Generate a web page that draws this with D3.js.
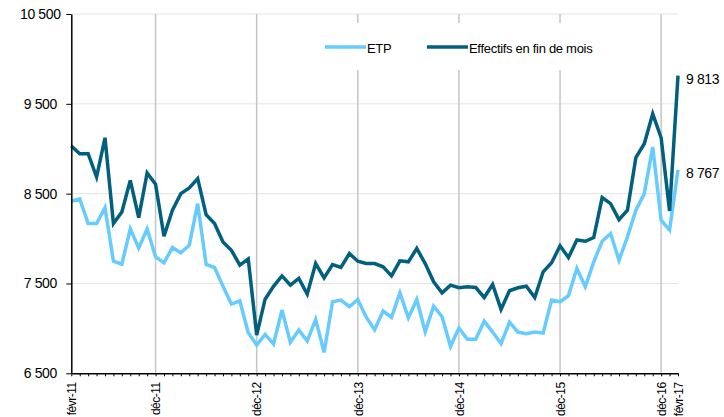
<!DOCTYPE html>
<html>
<head>
<meta charset="utf-8">
<style>
  body { margin: 0; background: #fff; }
  svg { display: block; font-family: "Liberation Sans", Arial, sans-serif; }
  .axis .domain { stroke: #000; stroke-width: 1.5px; }
  .axis .tick line { stroke: #000; }
  .axis text { fill: #000; }
  .hgrid line { stroke: #e4e4e4; stroke-width: 1px; }
  .vgrid line { stroke: #c6c6c6; stroke-width: 1.5px; }
  .serie { fill: none; stroke-width: 3.5px; stroke-linejoin: miter; }
</style>
</head>
<body>
<svg id="chart" width="724" height="417"></svg>
<script src="https://cdn.jsdelivr.net/npm/d3@7"></script>
<script>
// monthly values, févr-11 -> févr-17
var etp = [8415, 8441, 8167, 8167, 8344, 7748, 7715, 8107, 7896, 8107,
  7796, 7730, 7900, 7841, 7926, 8389, 7711, 7678, 7470, 7270,
  7307, 6952, 6815, 6933, 6826, 7204, 6844, 6981, 6859, 7100,
  6733, 7296, 7315, 7241, 7322, 7125, 6985, 7193, 7122, 7396,
  7118, 7322, 6963, 7248, 7130, 6800, 7004, 6880, 6878, 7081,
  6959, 6830, 7070, 6959, 6941, 6959, 6948, 7315, 7296, 7365,
  7667, 7463, 7741, 7970, 8056, 7759, 8019, 8315, 8500, 9019,
  8204, 8093, 8767];

var effectifs = [9030, 8944, 8944, 8685, 9122, 8167, 8296, 8648, 8233, 8730,
  8604, 8026, 8315, 8500, 8563, 8667, 8267, 8167, 7963, 7870,
  7704, 7774, 6926, 7325, 7468, 7585, 7481, 7556, 7381, 7722,
  7563, 7711, 7678, 7833, 7748, 7722, 7722, 7685, 7585, 7752,
  7741, 7889, 7722, 7519, 7396, 7481, 7452, 7463, 7455, 7344,
  7489, 7211, 7419, 7452, 7470, 7344, 7630, 7730, 7919, 7789,
  7985, 7970, 8011, 8456, 8389, 8211, 8315, 8900, 9056, 9389,
  9122, 8307, 9813];

var moisNoms = ["janv", "févr", "mars", "avr", "mai", "juin", "juil", "août", "sept", "oct", "nov", "déc"];
var xLabels = ["févr-11", "déc-11", "déc-12", "déc-13", "déc-14", "déc-15", "déc-16", "févr-17"];
var yTicks = [6500, 7500, 8500, 9500, 10500];

var months = [];
for (var k = 0; k < etp.length; k++) {
  var m = (1 + k) % 12, yr = 11 + Math.floor((1 + k) / 12);
  months.push(moisNoms[m] + "-" + yr);
}

var margin = {left: 71.3, right: 46, top: 14, bottom: 43.7};
var W = 724, H = 417;

var svg = d3.select("#chart");

var x = d3.scalePoint().domain(months).range([margin.left, W - margin.right]);
var y = d3.scaleLinear().domain([6500, 10500]).range([H - margin.bottom, margin.top]);

var fr = d3.formatLocale({decimal: ",", thousands: " ", grouping: [3], currency: ["", " €"]});
var fmt = fr.format(",");

// horizontal gridlines
svg.append("g").attr("class", "hgrid")
  .selectAll("line").data(yTicks.slice(1)).enter().append("line")
    .attr("x1", margin.left).attr("x2", W - margin.right)
    .attr("y1", function(d){ return y(d); }).attr("y2", function(d){ return y(d); });

// vertical gridlines at december
svg.append("g").attr("class", "vgrid")
  .selectAll("line").data(months.filter(function(d){ return d.indexOf("déc") === 0; })).enter().append("line")
    .attr("x1", function(d){ return x(d); }).attr("x2", function(d){ return x(d); })
    .attr("y1", y(10500)).attr("y2", y(6500));

// legend box hides gridlines
svg.append("rect").attr("x", 262).attr("y", 23).attr("width", 390).attr("height", 47).attr("fill", "#fff");

var line = function(vals) {
  return d3.line().x(function(d, i){ return x(months[i]); }).y(function(d){ return y(d); })(vals);
};

svg.append("path").attr("class", "serie").attr("stroke", "#66ccff").attr("d", line(etp));
svg.append("path").attr("class", "serie").attr("stroke", "#00607e").attr("d", line(effectifs));

// y axis
var yAxis = svg.append("g").attr("class", "axis")
  .attr("transform", "translate(" + margin.left + ",0)")
  .call(d3.axisLeft(y).tickValues(yTicks).tickSize(5).tickSizeOuter(0).tickFormat(fmt));
yAxis.selectAll("text")
  .attr("x", -31).style("text-anchor", "middle")
  .style("font-size", "14px").style("letter-spacing", "-0.4px");

// x axis
var xAxis = svg.append("g").attr("class", "axis")
  .attr("transform", "translate(0," + y(6500) + ")")
  .call(d3.axisBottom(x).tickSize(3).tickSizeOuter(0)
    .tickFormat(function(d){ return xLabels.indexOf(d) >= 0 ? d : ""; }));
xAxis.selectAll("text")
  .attr("transform", "rotate(-90)")
  .attr("x", -9).attr("y", 0).attr("dy", "0.35em")
  .style("text-anchor", "end").style("font-size", "12px").style("letter-spacing", "-0.5px");

// legend
var legend = [{name: "ETP", color: "#66ccff", x: 325}, {name: "Effectifs en fin de mois", color: "#00607e", x: 427}];
var lg = svg.append("g").selectAll("g").data(legend).enter().append("g");
lg.append("line")
  .attr("x1", function(d){ return d.x; }).attr("x2", function(d){ return d.x + 41; })
  .attr("y1", 47).attr("y2", 47)
  .attr("stroke", function(d){ return d.color; }).attr("stroke-width", 3.5);
lg.append("text")
  .attr("x", function(d){ return d.x + 42; }).attr("y", 52.5)
  .style("font-size", "13px").style("letter-spacing", "-0.3px")
  .text(function(d){ return d.name; });

// end values
var last = months[months.length - 1];
svg.selectAll(".endlab").data([effectifs[effectifs.length - 1], etp[etp.length - 1]]).enter().append("text")
  .attr("class", "endlab")
  .attr("x", x(last) + 8).attr("y", function(d){ return y(d) + 3; })
  .attr("dy", "0.35em")
  .style("font-size", "14px").style("letter-spacing", "-0.4px")
  .text(function(d){ return fmt(d); });
</script>
</body>
</html>
